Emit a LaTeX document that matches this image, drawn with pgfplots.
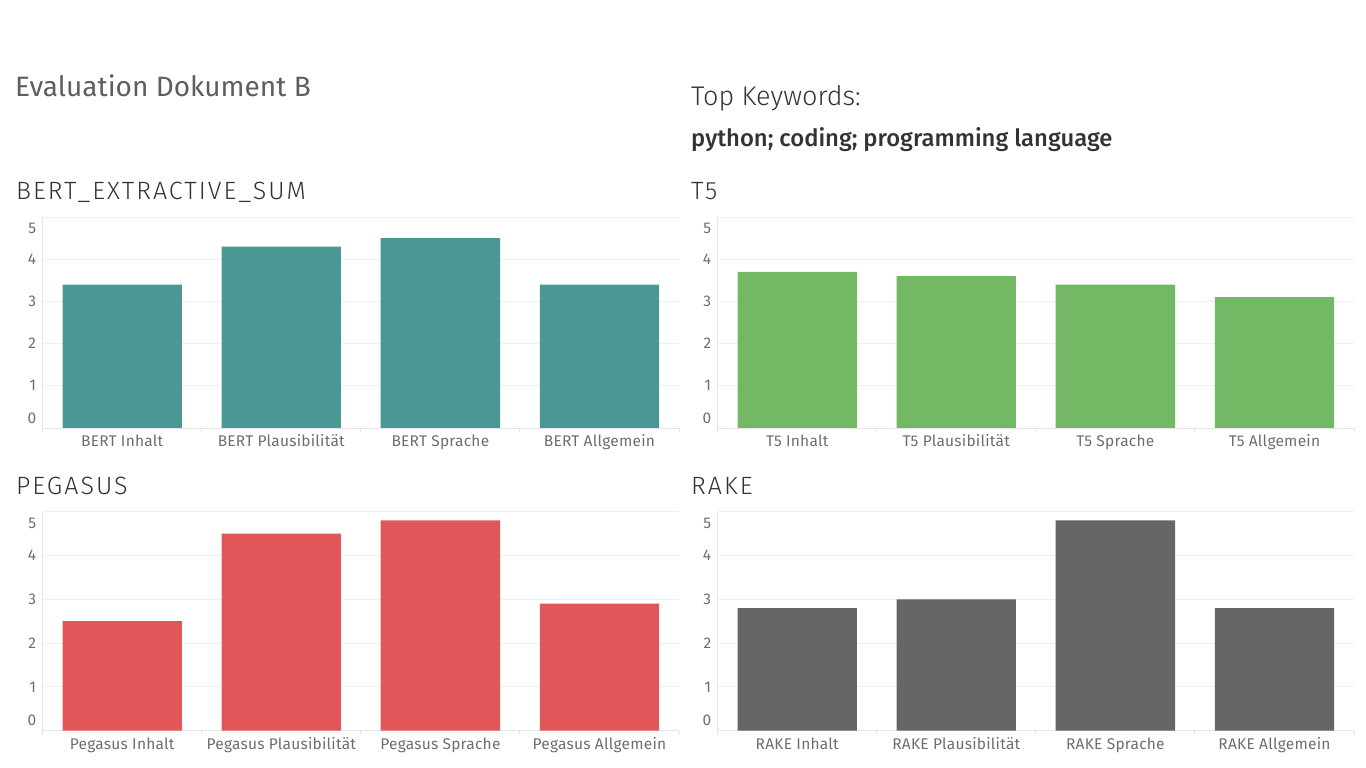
\documentclass[border=0pt]{standalone}
\usepackage{fontspec}
\setmainfont{Fira Sans}
\newfontfamily\lightfont{Fira Sans Light}
\newfontfamily\lightspaced{Fira Sans Light}[LetterSpace=8]
\newfontfamily\mediumfont{Fira Sans Medium}
\newfontfamily\tickfont{Fira Sans}[LetterSpace=1.5]
\usepackage{pgfplots}
\pgfplotsset{compat=1.18}
\definecolor{cteal}{HTML}{4A9893}
\definecolor{cgreen}{HTML}{72B865}
\definecolor{cred}{HTML}{E15759}
\definecolor{cgray}{HTML}{666666}
\definecolor{gridgray}{HTML}{EFEFEF}
\definecolor{axgray}{HTML}{E4E4E4}
\definecolor{lblgray}{HTML}{6E6E6E}
\definecolor{titlegray}{HTML}{5E5E5E}
\definecolor{darktxt}{HTML}{333333}
\pgfplotsset{
  panel/.style={
    scale only axis, width=636.3pt,
    xmin=-0.5, xmax=3.5, ymin=0, ymax=5,
    enlargelimits=false,
    ybar, bar width=0.75,
    axis x line*=bottom, axis y line*=left,
    axis line style={-, draw=axgray, line width=0.9pt},
    ymajorgrids, grid style={draw=gridgray, line width=0.9pt},
    ytick={0,1,2,3,4,5},
    yticklabels={\smash{\raisebox{4.7pt}{0}},1,2,3,4,\smash{\raisebox{-17pt}{5}}},
    ytick style={draw=none},
    tick align=outside,
    xtick={-0.5,0.5,1.5,2.5,3.5},
    xticklabels={},
    major tick length=4pt,
    xtick style={draw=axgray, line width=0.9pt},
    extra x ticks={0,1,2,3},
    extra x tick style={major tick length=0pt, xticklabel style={anchor=base, yshift=-18.7pt}},
    tick label style={font=\tickfont\fontsize{15.5}{15.5}\selectfont, text=lblgray},
    yticklabel style={xshift=1pt},
  },
}
\begin{document}
\begin{tikzpicture}
\useasboundingbox (0,0) rectangle (1366pt,768pt);
\node[anchor=base west, text=titlegray, inner sep=0pt, font=\fontsize{28}{28}\selectfont] at (15pt,671.3pt) {Evaluation Dokument B};
\node[anchor=base west, text=darktxt, inner sep=0pt, font=\lightfont\fontsize{27}{27}\selectfont] at (691pt,662pt) {Top Keywords:};
\node[anchor=base west, text=darktxt, inner sep=0pt, font=\mediumfont\fontsize{23.8}{23.8}\selectfont] at (691pt,621.8pt) {python; coding; programming language};
\node[anchor=base west, text=darktxt, inner sep=0pt, font=\lightspaced\fontsize{25}{25}\selectfont] at (16pt,568.7pt) {BERT\_EXTRACTIVE\_SUM};
\node[anchor=base west, text=darktxt, inner sep=0pt, font=\lightspaced\fontsize{25}{25}\selectfont] at (691pt,568.7pt) {T5};
\node[anchor=base west, text=darktxt, inner sep=0pt, font=\lightspaced\fontsize{25}{25}\selectfont] at (16pt,273.5pt) {PEGASUS};
\node[anchor=base west, text=darktxt, inner sep=0pt, font=\lightspaced\fontsize{25}{25}\selectfont] at (691pt,273.5pt) {RAKE};

\begin{axis}[panel, at={(42.7pt,340pt)}, anchor=south west, height=211pt,
  extra x tick labels={BERT Inhalt,BERT Plausibilität,BERT Sprache,BERT Allgemein}]
\addplot[fill=cteal, draw=none] coordinates {(0,3.4) (1,4.3) (2,4.5) (3,3.4)};
\end{axis}

\begin{axis}[panel, at={(717.7pt,340pt)}, anchor=south west, height=211pt,
  extra x tick labels={T5 Inhalt,T5 Plausibilität,T5 Sprache,T5 Allgemein}]
\addplot[fill=cgreen, draw=none] coordinates {(0,3.7) (1,3.6) (2,3.4) (3,3.1)};
\end{axis}

\begin{axis}[panel, at={(42.7pt,37.3pt)}, anchor=south west, height=219pt,
  extra x tick labels={Pegasus Inhalt,Pegasus Plausibilität,Pegasus Sprache,Pegasus Allgemein}]
\addplot[fill=cred, draw=none] coordinates {(0,2.5) (1,4.5) (2,4.8) (3,2.9)};
\end{axis}

\begin{axis}[panel, at={(717.7pt,37.3pt)}, anchor=south west, height=219pt,
  extra x tick labels={RAKE Inhalt,RAKE Plausibilität,RAKE Sprache,RAKE Allgemein}]
\addplot[fill=cgray, draw=none] coordinates {(0,2.8) (1,3.0) (2,4.8) (3,2.8)};
\end{axis}
\end{tikzpicture}
\end{document}
